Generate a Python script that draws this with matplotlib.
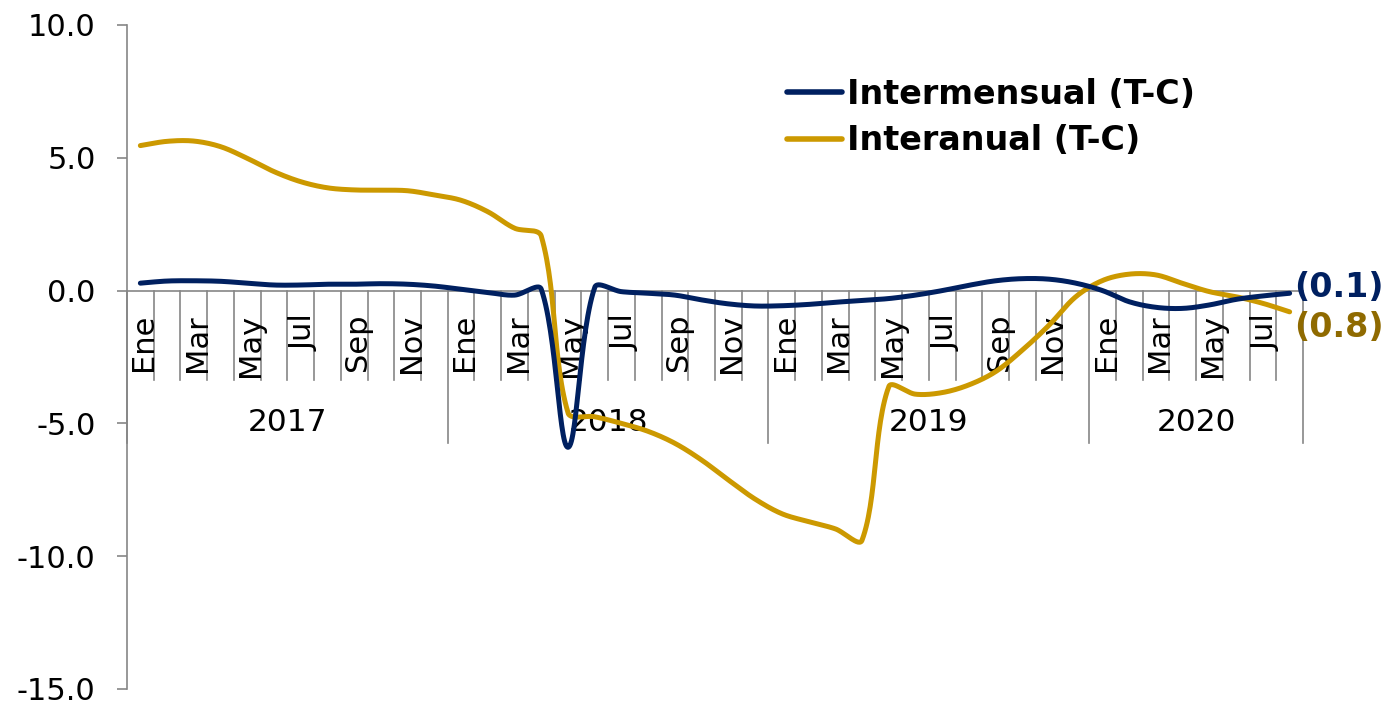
import numpy as np
import matplotlib
matplotlib.use("Agg")
import matplotlib.pyplot as plt
import matplotlib.transforms as mtransforms
from matplotlib.ticker import FormatStrFormatter

plt.rcParams['font.family'] = ['DejaVu Sans']
plt.rcParams['axes.unicode_minus'] = False

# ---------------- data ----------------
years = ["2017", "2018", "2019", "2020"]
months_per_year = [12, 12, 12, 8]
month_names = ["Ene", "Feb", "Mar", "Abr", "May", "Jun",
               "Jul", "Ago", "Sep", "Oct", "Nov", "Dic"]

intermensual = [0.28, 0.36, 0.37, 0.35, 0.28, 0.21, 0.21, 0.24, 0.24, 0.26, 0.24, 0.17,
                0.05, -0.07, -0.17, 0.05, -5.9, 0.12, -0.04, -0.10, -0.17, -0.35, -0.50, -0.58,
                -0.57, -0.52, -0.44, -0.37, -0.30, -0.17, 0.00, 0.20, 0.37, 0.45, 0.43, 0.28,
                0.00, -0.42, -0.63, -0.67, -0.54, -0.33, -0.20, -0.10]

interanual = [5.46, 5.62, 5.63, 5.42, 4.98, 4.48, 4.10, 3.87, 3.79, 3.78, 3.76, 3.60,
              3.40, 2.97, 2.35, 2.05, -4.60, -4.75, -5.00, -5.30, -5.75, -6.38, -7.13, -7.85,
              -8.40, -8.70, -8.97, -9.40, -3.62, -3.90, -3.84, -3.55, -3.05, -2.24, -1.30, -0.23,
              0.38, 0.62, 0.59, 0.27, -0.04, -0.23, -0.48, -0.80]

series_names = ["Intermensual (T-C)", "Interanual (T-C)"]
y_ticks = [-15, -10, -5, 0, 5, 10]

# ---------------- style ----------------
NAVY = "#002060"
GOLD = "#CC9900"
GOLD_LABEL = "#8F6A00"
GRAY = "#868686"

month_labels = []
for ny in months_per_year:
    month_labels += month_names[:ny]
n = len(month_labels)
x = np.arange(n)


def excel_smooth(xs, ys, steps=30):
    """Bezier smoothing similar to Excel's smoothed line."""
    pts = np.column_stack([xs, ys]).astype(float)
    out = [pts[0]]
    m = len(pts)
    for i in range(m - 1):
        p0 = pts[i - 1] if i > 0 else pts[i]
        p1 = pts[i]
        p2 = pts[i + 1]
        p3 = pts[i + 2] if i + 2 < m else pts[i + 1]
        d01 = np.hypot(*(p1 - p0))
        d12 = np.hypot(*(p2 - p1))
        d23 = np.hypot(*(p3 - p2))
        f1 = (1 / 3) * d12 / (d01 + d12) if (d01 + d12) > 0 else 0
        f2 = (1 / 3) * d12 / (d12 + d23) if (d12 + d23) > 0 else 0
        c1 = p1 + f1 * (p2 - p0)
        c2 = p2 - f2 * (p3 - p1)
        t = np.linspace(0, 1, steps)[1:, None]
        seg = ((1 - t) ** 3) * p1 + 3 * ((1 - t) ** 2) * t * c1 + 3 * (1 - t) * t ** 2 * c2 + t ** 3 * p2
        out.extend(seg)
    out = np.array(out)
    return out[:, 0], out[:, 1]


W, H = 1386, 704
fig = plt.figure(figsize=(W / 100, H / 100), dpi=100)
ax_left, ax_right, ax_top, ax_bottom = 127, 1303, 25, 689
ax = fig.add_axes([ax_left / W, (H - ax_bottom) / H,
                   (ax_right - ax_left) / W, (ax_bottom - ax_top) / H])

ax.set_xlim(-0.5, n - 0.5)
ax.set_ylim(y_ticks[0], y_ticks[-1])

for s in ["top", "right", "bottom"]:
    ax.spines[s].set_visible(False)
ax.spines["left"].set_color(GRAY)
ax.spines["left"].set_linewidth(1.2)
ax.set_yticks(y_ticks)
ax.yaxis.set_major_formatter(FormatStrFormatter("%.1f"))
ax.tick_params(axis="y", direction="out", length=7.5, width=1.2, color=GRAY,
               labelsize=22, pad=15, labelcolor="black")
ax.set_xticks([])

# category axis at zero
ax.axhline(0, color=GRAY, lw=1.2, zorder=1)
trans = mtransforms.blended_transform_factory(ax.transData, ax.transAxes)
label_trans = trans + mtransforms.ScaledTranslation(2.5 / 72, 0, fig.dpi_scale_trans)


def frac(py):
    return (ax_bottom - py) / (ax_bottom - ax_top)


zero_f = (0 - y_ticks[0]) / (y_ticks[-1] - y_ticks[0])
short_f = frac(380)
long_f = frac(443)

year_bounds = np.cumsum([0] + months_per_year) - 0.5
for b in np.arange(-0.5, n, 1.0):
    is_year = np.any(np.isclose(b, year_bounds))
    ax.plot([b, b], [zero_f, long_f if is_year else short_f], transform=trans,
            color=GRAY, lw=1.2, clip_on=False, zorder=1)

# month labels (every other month)
for i, lab in enumerate(month_labels):
    if month_names.index(lab) % 2 == 0:
        ax.text(i, frac(314), lab, transform=label_trans, rotation=90, ha="center",
                va="top", fontsize=22, color="black")

# year labels
for k, yr in enumerate(years):
    cx = (year_bounds[k] + year_bounds[k + 1]) / 2
    ax.text(cx, frac(423), yr, transform=trans, ha="center", va="center",
            fontsize=22.5, color="black")

# lines
sx, sy = excel_smooth(x, intermensual)
ax.plot(sx, sy, color=NAVY, lw=3.6, solid_capstyle="round", zorder=4,
        label=series_names[0])
gx, gy = excel_smooth(x, interanual)
ax.plot(gx, gy, color=GOLD, lw=3.6, solid_capstyle="round", zorder=3,
        label=series_names[1])

# end labels
ax.annotate(f"({abs(intermensual[-1]):.1f})", xy=(x[-1], intermensual[-1]),
            xytext=(3.5, 4.5), textcoords="offset points", ha="left", va="center",
            fontsize=24, fontweight="bold", color=NAVY, annotation_clip=False)
ax.annotate(f"({abs(interanual[-1]):.1f})", xy=(x[-1], interanual[-1]),
            xytext=(3, -11.5), textcoords="offset points", ha="left", va="center",
            fontsize=24, fontweight="bold", color=GOLD_LABEL, annotation_clip=False)

leg = ax.legend(loc="upper left", bbox_to_anchor=(787 / W, 1 - 78 / H),
                bbox_transform=fig.transFigure, frameon=False,
                prop={"size": 24, "weight": "bold"}, handlelength=1.65,
                handletextpad=0.15, labelspacing=0.4, borderpad=0, borderaxespad=0)
for line in leg.get_lines():
    line.set_linewidth(4)
    line.set_solid_capstyle("round")

fig.savefig("out.png", dpi=100)
